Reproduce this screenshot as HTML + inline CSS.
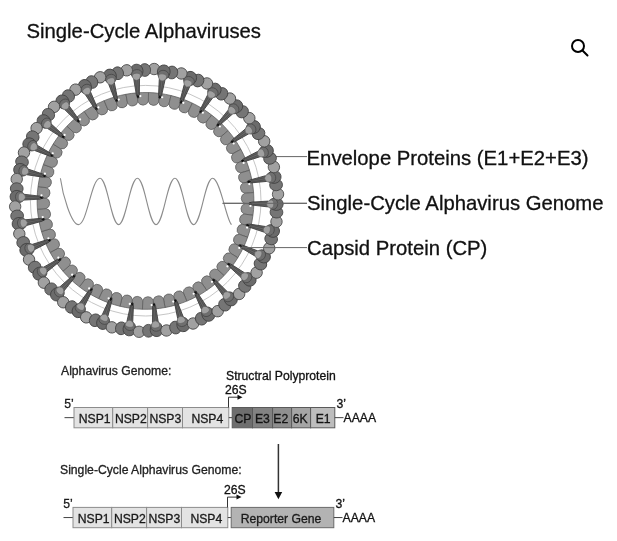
<!DOCTYPE html>
<html><head><meta charset="utf-8"><style>
html,body{margin:0;padding:0;background:#fff;width:617px;height:541px;overflow:hidden;}
svg{display:block;filter:grayscale(1);}
text{font-family:"Liberation Sans",sans-serif;}
</style></head><body>
<svg width="617" height="541" viewBox="0 0 617 541" font-family="Liberation Sans, sans-serif">
<defs>
<g id="stm"><path d="M -0.3,-102.8 L -1.5,-106.0 L -2.9,-122 L 2.9,-122 L 1.5,-106.0 L 0.3,-102.8 Z" fill="#666" stroke="#383838" stroke-width="0.8"/><path d="M -0.7,-107 L -1.1,-121 M 0.7,-107 L 1.1,-121" stroke="#404040" stroke-width="0.55"/><path d="M -1.3,-103.6 L 1.3,-103.6 L 0,-107.0 Z" fill="#111"/></g><g id="lgt"><ellipse cx="0" cy="-131.6" rx="5.8" ry="5.7" fill="#a1a1a1" stroke="#4a4a4a" stroke-width="0.85" transform="rotate(7.7)"/></g><g id="drk"><ellipse cx="0" cy="-129.8" rx="6.4" ry="6.8" fill="#6b6b6b" stroke="#424242" stroke-width="0.85"/><ellipse cx="0" cy="-126.6" rx="5.4" ry="4.6" fill="#6f6f6f" stroke="#444" stroke-width="0.7"/></g><g id="drb"><ellipse cx="0" cy="-130.4" rx="5.8" ry="6.4" fill="#757575" stroke="#454545" stroke-width="0.85" transform="rotate(3.6)"/></g><g id="hed"><path d="M -4.1,-125.4 C -4.1,-128.6 4.1,-128.6 4.1,-125.4 C 4.1,-122.8 2.3,-121 0,-120.6 C -2.3,-121 -4.1,-122.8 -4.1,-125.4 Z" fill="#a0a0a0" stroke="#5e5e5e" stroke-width="0.6"/></g>
<g id="cap"><path d="M -5.67,-108.25 A 108.4 108.4 0 0 1 5.67,-108.25 L 5.22,-99.56 A 5.5 5.5 0 0 1 -5.22,-99.56 Z" fill="#8f8f8f" stroke="#5a5a5a" stroke-width="0.7"/></g>
</defs>
<rect width="617" height="541" fill="#fff"/>
<text x="26.5" y="37.7" font-size="20.3" fill="#111" stroke="#111" stroke-width="0.3">Single-Cycle Alphaviruses</text>
<circle cx="578" cy="46" r="6" fill="none" stroke="#000" stroke-width="2"/>
<line x1="582.5" y1="50.5" x2="587.5" y2="55.5" stroke="#000" stroke-width="2" stroke-linecap="round"/>
<g stroke="#666" stroke-width="1">
<line x1="265" y1="156.6" x2="307" y2="156.6"/>
<line x1="222.6" y1="203.3" x2="307" y2="203.3"/>
</g>
<path d="M 60.4,178.2 C 62.57,194.44 71.26,224.60 78.5,224.6 C 87.10,224.60 91.40,178.30 100.0,178.3 C 107.44,178.30 111.16,224.60 118.6,224.6 C 126.12,224.60 129.88,178.30 137.4,178.3 C 144.84,178.30 148.56,224.60 156.0,224.6 C 163.56,224.60 167.34,178.30 174.9,178.3 C 182.38,178.30 186.12,224.60 193.6,224.6 C 201.20,224.60 205.00,178.30 212.6,178.3 C 220.20,178.30 226.85,222.28 231.6,224.6 " fill="none" stroke="#8c8c8c" stroke-width="1.1"/>
<circle cx="145.7" cy="200.7" r="115.3" fill="none" stroke="#c6c6c6" stroke-width="1"/>
<g transform="translate(145.5,200.9)"><use href="#cap" transform="rotate(4.60)"/><use href="#cap" transform="rotate(10.60)"/><use href="#cap" transform="rotate(16.60)"/><use href="#cap" transform="rotate(22.60)"/><use href="#cap" transform="rotate(28.60)"/><use href="#cap" transform="rotate(34.60)"/><use href="#cap" transform="rotate(40.60)"/><use href="#cap" transform="rotate(46.60)"/><use href="#cap" transform="rotate(52.60)"/><use href="#cap" transform="rotate(58.60)"/><use href="#cap" transform="rotate(64.60)"/><use href="#cap" transform="rotate(70.60)"/><use href="#cap" transform="rotate(76.60)"/><use href="#cap" transform="rotate(82.60)"/><use href="#cap" transform="rotate(88.60)"/><use href="#cap" transform="rotate(94.60)"/><use href="#cap" transform="rotate(100.60)"/><use href="#cap" transform="rotate(106.60)"/><use href="#cap" transform="rotate(112.60)"/><use href="#cap" transform="rotate(118.60)"/><use href="#cap" transform="rotate(124.60)"/><use href="#cap" transform="rotate(130.60)"/><use href="#cap" transform="rotate(136.60)"/><use href="#cap" transform="rotate(142.60)"/><use href="#cap" transform="rotate(148.60)"/><use href="#cap" transform="rotate(154.60)"/><use href="#cap" transform="rotate(160.60)"/><use href="#cap" transform="rotate(166.60)"/><use href="#cap" transform="rotate(172.60)"/><use href="#cap" transform="rotate(178.60)"/><use href="#cap" transform="rotate(184.60)"/><use href="#cap" transform="rotate(190.60)"/><use href="#cap" transform="rotate(196.60)"/><use href="#cap" transform="rotate(202.60)"/><use href="#cap" transform="rotate(208.60)"/><use href="#cap" transform="rotate(214.60)"/><use href="#cap" transform="rotate(220.60)"/><use href="#cap" transform="rotate(226.60)"/><use href="#cap" transform="rotate(232.60)"/><use href="#cap" transform="rotate(238.60)"/><use href="#cap" transform="rotate(244.60)"/><use href="#cap" transform="rotate(250.60)"/><use href="#cap" transform="rotate(256.60)"/><use href="#cap" transform="rotate(262.60)"/><use href="#cap" transform="rotate(268.60)"/><use href="#cap" transform="rotate(274.60)"/><use href="#cap" transform="rotate(280.60)"/><use href="#cap" transform="rotate(286.60)"/><use href="#cap" transform="rotate(292.60)"/><use href="#cap" transform="rotate(298.60)"/><use href="#cap" transform="rotate(304.60)"/><use href="#cap" transform="rotate(310.60)"/><use href="#cap" transform="rotate(316.60)"/><use href="#cap" transform="rotate(322.60)"/><use href="#cap" transform="rotate(328.60)"/><use href="#cap" transform="rotate(334.60)"/><use href="#cap" transform="rotate(340.60)"/><use href="#cap" transform="rotate(346.60)"/><use href="#cap" transform="rotate(352.60)"/><use href="#cap" transform="rotate(358.60)"/></g>
<g transform="translate(146.0,200.6)"><use href="#stm" transform="rotate(7.60)"/><use href="#stm" transform="rotate(19.60)"/><use href="#stm" transform="rotate(31.60)"/><use href="#stm" transform="rotate(43.60)"/><use href="#stm" transform="rotate(55.60)"/><use href="#stm" transform="rotate(67.60)"/><use href="#stm" transform="rotate(79.60)"/><use href="#stm" transform="rotate(91.60)"/><use href="#stm" transform="rotate(103.60)"/><use href="#stm" transform="rotate(115.60)"/><use href="#stm" transform="rotate(127.60)"/><use href="#stm" transform="rotate(139.60)"/><use href="#stm" transform="rotate(151.60)"/><use href="#stm" transform="rotate(163.60)"/><use href="#stm" transform="rotate(175.60)"/><use href="#stm" transform="rotate(187.60)"/><use href="#stm" transform="rotate(199.60)"/><use href="#stm" transform="rotate(211.60)"/><use href="#stm" transform="rotate(223.60)"/><use href="#stm" transform="rotate(235.60)"/><use href="#stm" transform="rotate(247.60)"/><use href="#stm" transform="rotate(259.60)"/><use href="#stm" transform="rotate(271.60)"/><use href="#stm" transform="rotate(283.60)"/><use href="#stm" transform="rotate(295.60)"/><use href="#stm" transform="rotate(307.60)"/><use href="#stm" transform="rotate(319.60)"/><use href="#stm" transform="rotate(331.60)"/><use href="#stm" transform="rotate(343.60)"/><use href="#stm" transform="rotate(355.60)"/></g><circle cx="162.21" cy="97.24" r="1.1" fill="#fff"/><circle cx="183.35" cy="102.87" r="1.1" fill="#fff"/><circle cx="202.85" cy="112.77" r="1.1" fill="#fff"/><circle cx="219.87" cy="126.51" r="1.1" fill="#fff"/><circle cx="233.66" cy="143.48" r="1.1" fill="#fff"/><circle cx="243.62" cy="162.96" r="1.1" fill="#fff"/><circle cx="249.31" cy="184.08" r="1.1" fill="#fff"/><circle cx="250.49" cy="205.92" r="1.1" fill="#fff"/><circle cx="247.10" cy="227.53" r="1.1" fill="#fff"/><circle cx="239.29" cy="247.96" r="1.1" fill="#fff"/><circle cx="227.41" cy="266.32" r="1.1" fill="#fff"/><circle cx="211.97" cy="281.81" r="1.1" fill="#fff"/><circle cx="193.64" cy="293.75" r="1.1" fill="#fff"/><circle cx="173.23" cy="301.62" r="1.1" fill="#fff"/><circle cx="151.63" cy="305.08" r="1.1" fill="#fff"/><circle cx="129.79" cy="303.96" r="1.1" fill="#fff"/><circle cx="108.65" cy="298.33" r="1.1" fill="#fff"/><circle cx="89.15" cy="288.43" r="1.1" fill="#fff"/><circle cx="72.13" cy="274.69" r="1.1" fill="#fff"/><circle cx="58.34" cy="257.72" r="1.1" fill="#fff"/><circle cx="48.38" cy="238.24" r="1.1" fill="#fff"/><circle cx="42.69" cy="217.12" r="1.1" fill="#fff"/><circle cx="41.51" cy="195.28" r="1.1" fill="#fff"/><circle cx="44.90" cy="173.67" r="1.1" fill="#fff"/><circle cx="52.71" cy="153.24" r="1.1" fill="#fff"/><circle cx="64.59" cy="134.88" r="1.1" fill="#fff"/><circle cx="80.03" cy="119.39" r="1.1" fill="#fff"/><circle cx="98.36" cy="107.45" r="1.1" fill="#fff"/><circle cx="118.77" cy="99.58" r="1.1" fill="#fff"/><circle cx="140.37" cy="96.12" r="1.1" fill="#fff"/>
<g transform="translate(146.6,200.4)"><use href="#lgt" transform="rotate(355.60)"/><use href="#drb" transform="rotate(355.60)"/><use href="#drk" transform="rotate(355.60)"/><use href="#lgt" transform="rotate(343.60)"/><use href="#drb" transform="rotate(343.60)"/><use href="#drk" transform="rotate(343.60)"/><use href="#lgt" transform="rotate(331.60)"/><use href="#drb" transform="rotate(331.60)"/><use href="#drk" transform="rotate(331.60)"/><use href="#lgt" transform="rotate(319.60)"/><use href="#drb" transform="rotate(319.60)"/><use href="#drk" transform="rotate(319.60)"/><use href="#lgt" transform="rotate(307.60)"/><use href="#drb" transform="rotate(307.60)"/><use href="#drk" transform="rotate(307.60)"/><use href="#lgt" transform="rotate(295.60)"/><use href="#drb" transform="rotate(295.60)"/><use href="#drk" transform="rotate(295.60)"/><use href="#lgt" transform="rotate(283.60)"/><use href="#drb" transform="rotate(283.60)"/><use href="#drk" transform="rotate(283.60)"/><use href="#lgt" transform="rotate(271.60)"/><use href="#drb" transform="rotate(271.60)"/><use href="#drk" transform="rotate(271.60)"/><use href="#lgt" transform="rotate(259.60)"/><use href="#drb" transform="rotate(259.60)"/><use href="#drk" transform="rotate(259.60)"/><use href="#lgt" transform="rotate(247.60)"/><use href="#drb" transform="rotate(247.60)"/><use href="#drk" transform="rotate(247.60)"/><use href="#lgt" transform="rotate(235.60)"/><use href="#drb" transform="rotate(235.60)"/><use href="#drk" transform="rotate(235.60)"/><use href="#lgt" transform="rotate(223.60)"/><use href="#drb" transform="rotate(223.60)"/><use href="#drk" transform="rotate(223.60)"/><use href="#lgt" transform="rotate(211.60)"/><use href="#drb" transform="rotate(211.60)"/><use href="#drk" transform="rotate(211.60)"/><use href="#lgt" transform="rotate(199.60)"/><use href="#drb" transform="rotate(199.60)"/><use href="#drk" transform="rotate(199.60)"/><use href="#lgt" transform="rotate(187.60)"/><use href="#drb" transform="rotate(187.60)"/><use href="#drk" transform="rotate(187.60)"/><use href="#lgt" transform="rotate(175.60)"/><use href="#drb" transform="rotate(175.60)"/><use href="#drk" transform="rotate(175.60)"/><use href="#lgt" transform="rotate(163.60)"/><use href="#drb" transform="rotate(163.60)"/><use href="#drk" transform="rotate(163.60)"/><use href="#lgt" transform="rotate(151.60)"/><use href="#drb" transform="rotate(151.60)"/><use href="#drk" transform="rotate(151.60)"/><use href="#lgt" transform="rotate(139.60)"/><use href="#drb" transform="rotate(139.60)"/><use href="#drk" transform="rotate(139.60)"/><use href="#lgt" transform="rotate(127.60)"/><use href="#drb" transform="rotate(127.60)"/><use href="#drk" transform="rotate(127.60)"/><use href="#lgt" transform="rotate(115.60)"/><use href="#drb" transform="rotate(115.60)"/><use href="#drk" transform="rotate(115.60)"/><use href="#lgt" transform="rotate(103.60)"/><use href="#drb" transform="rotate(103.60)"/><use href="#drk" transform="rotate(103.60)"/><use href="#lgt" transform="rotate(91.60)"/><use href="#drb" transform="rotate(91.60)"/><use href="#drk" transform="rotate(91.60)"/><use href="#lgt" transform="rotate(79.60)"/><use href="#drb" transform="rotate(79.60)"/><use href="#drk" transform="rotate(79.60)"/><use href="#lgt" transform="rotate(67.60)"/><use href="#drb" transform="rotate(67.60)"/><use href="#drk" transform="rotate(67.60)"/><use href="#lgt" transform="rotate(55.60)"/><use href="#drb" transform="rotate(55.60)"/><use href="#drk" transform="rotate(55.60)"/><use href="#lgt" transform="rotate(43.60)"/><use href="#drb" transform="rotate(43.60)"/><use href="#drk" transform="rotate(43.60)"/><use href="#lgt" transform="rotate(31.60)"/><use href="#drb" transform="rotate(31.60)"/><use href="#drk" transform="rotate(31.60)"/><use href="#lgt" transform="rotate(19.60)"/><use href="#drb" transform="rotate(19.60)"/><use href="#drk" transform="rotate(19.60)"/><use href="#lgt" transform="rotate(7.60)"/><use href="#drb" transform="rotate(7.60)"/><use href="#drk" transform="rotate(7.60)"/></g>
<g transform="translate(146.0,200.6)"><use href="#hed" transform="rotate(7.60)"/><use href="#hed" transform="rotate(19.60)"/><use href="#hed" transform="rotate(31.60)"/><use href="#hed" transform="rotate(43.60)"/><use href="#hed" transform="rotate(55.60)"/><use href="#hed" transform="rotate(67.60)"/><use href="#hed" transform="rotate(79.60)"/><use href="#hed" transform="rotate(91.60)"/><use href="#hed" transform="rotate(103.60)"/><use href="#hed" transform="rotate(115.60)"/><use href="#hed" transform="rotate(127.60)"/><use href="#hed" transform="rotate(139.60)"/><use href="#hed" transform="rotate(151.60)"/><use href="#hed" transform="rotate(163.60)"/><use href="#hed" transform="rotate(175.60)"/><use href="#hed" transform="rotate(187.60)"/><use href="#hed" transform="rotate(199.60)"/><use href="#hed" transform="rotate(211.60)"/><use href="#hed" transform="rotate(223.60)"/><use href="#hed" transform="rotate(235.60)"/><use href="#hed" transform="rotate(247.60)"/><use href="#hed" transform="rotate(259.60)"/><use href="#hed" transform="rotate(271.60)"/><use href="#hed" transform="rotate(283.60)"/><use href="#hed" transform="rotate(295.60)"/><use href="#hed" transform="rotate(307.60)"/><use href="#hed" transform="rotate(319.60)"/><use href="#hed" transform="rotate(331.60)"/><use href="#hed" transform="rotate(343.60)"/><use href="#hed" transform="rotate(355.60)"/></g>
<line x1="222.6" y1="203.3" x2="307" y2="203.3" stroke="#666" stroke-width="1"/>
<line x1="240" y1="247.6" x2="307" y2="247.6" stroke="#666" stroke-width="1"/>
<g font-size="20.3" fill="#111" stroke="#111" stroke-width="0.3">
<text x="306.6" y="164.8">Envelope Proteins (E1+E2+E3)</text>
<text x="307" y="210.1">Single-Cycle Alphavirus Genome</text>
<text x="307" y="254.5">Capsid Protein (CP)</text>
</g>
<text x="61" y="374.8" font-size="12.2" fill="#222" stroke="#222" stroke-width="0.3">Alphavirus Genome:</text>
<text x="226" y="379.5" font-size="12.2" fill="#111" stroke="#111" stroke-width="0.3">Structral Polyprotein</text>
<g transform="translate(0.0,0)">
<line x1="64.5" y1="417.65" x2="74" y2="417.65" stroke="#444" stroke-width="1"/>
<text x="64.2" y="407.6" font-size="12.2" fill="#1a1a1a" stroke="#1a1a1a" stroke-width="0.3">5’</text>
<rect x="74" y="407.5" width="38.7" height="20.3" fill="#e3e3e3" stroke="#8c8c8c" stroke-width="1"/>
<rect x="112.7" y="407.5" width="34.9" height="20.3" fill="#e3e3e3" stroke="#8c8c8c" stroke-width="1"/>
<rect x="147.6" y="407.5" width="34.9" height="20.3" fill="#e3e3e3" stroke="#8c8c8c" stroke-width="1"/>
<rect x="182.5" y="407.5" width="46.3" height="20.3" fill="#e3e3e3" stroke="#8c8c8c" stroke-width="1"/>
<text x="94.7" y="422.8" font-size="12.2" fill="#1a1a1a" stroke="#1a1a1a" stroke-width="0.3" text-anchor="middle">NSP1</text>
<text x="130.8" y="422.8" font-size="12.2" fill="#1a1a1a" stroke="#1a1a1a" stroke-width="0.3" text-anchor="middle">NSP2</text>
<text x="165.3" y="422.8" font-size="12.2" fill="#1a1a1a" stroke="#1a1a1a" stroke-width="0.3" text-anchor="middle">NSP3</text>
<text x="207.3" y="422.8" font-size="12.2" fill="#1a1a1a" stroke="#1a1a1a" stroke-width="0.3" text-anchor="middle">NSP4</text>
<line x1="228.8" y1="417.65" x2="232.2" y2="417.65" stroke="#444" stroke-width="1"/>
<rect x="232.2" y="407.5" width="20.3" height="20.3" fill="#6e6e6e" stroke="#5a5a5a" stroke-width="1"/>
<rect x="252.5" y="407.5" width="20.1" height="20.3" fill="#828282" stroke="#5a5a5a" stroke-width="1"/>
<rect x="272.6" y="407.5" width="19.0" height="20.3" fill="#8f8f8f" stroke="#5a5a5a" stroke-width="1"/>
<rect x="291.6" y="407.5" width="19.0" height="20.3" fill="#a5a5a5" stroke="#5a5a5a" stroke-width="1"/>
<rect x="310.6" y="407.5" width="24.2" height="20.3" fill="#bdbdbd" stroke="#5a5a5a" stroke-width="1"/>
<text x="242.9" y="422.8" font-size="12.2" fill="#141414" stroke="#141414" stroke-width="0.3" text-anchor="middle">CP</text>
<text x="262.4" y="422.8" font-size="12.2" fill="#141414" stroke="#141414" stroke-width="0.3" text-anchor="middle">E3</text>
<text x="280.8" y="422.8" font-size="12.2" fill="#141414" stroke="#141414" stroke-width="0.3" text-anchor="middle">E2</text>
<text x="300.1" y="422.8" font-size="12.2" fill="#141414" stroke="#141414" stroke-width="0.3" text-anchor="middle">6K</text>
<text x="323.2" y="422.8" font-size="12.2" fill="#141414" stroke="#141414" stroke-width="0.3" text-anchor="middle">E1</text>
<line x1="334.8" y1="417.65" x2="343.5" y2="417.65" stroke="#444" stroke-width="1"/>
<text x="343.6" y="422.0" font-size="12.2" fill="#111" stroke="#111" stroke-width="0.3">AAAA</text>
<text x="336.6" y="407.6" font-size="12.2" fill="#111" stroke="#111" stroke-width="0.3">3’</text>
<path d="M 228.5,407.5 L 228.5,397.2 L 238,397.2" fill="none" stroke="#333" stroke-width="1"/>
<path d="M 237.5,394.7 L 242.5,397.2 L 237.5,399.7 Z" fill="#111"/>
<text x="225" y="393.8" font-size="12.2" fill="#111" stroke="#111" stroke-width="0.3">26S</text>
</g>
<text x="60" y="474.2" font-size="12.2" fill="#222" stroke="#222" stroke-width="0.3">Single-Cycle Alphavirus Genome:</text>
<g transform="translate(-1.0,0)">
<line x1="64.5" y1="517.55" x2="74" y2="517.55" stroke="#444" stroke-width="1"/>
<text x="64.2" y="507.5" font-size="12.2" fill="#1a1a1a" stroke="#1a1a1a" stroke-width="0.3">5’</text>
<rect x="74" y="507.4" width="38.7" height="20.3" fill="#e3e3e3" stroke="#8c8c8c" stroke-width="1"/>
<rect x="112.7" y="507.4" width="34.9" height="20.3" fill="#e3e3e3" stroke="#8c8c8c" stroke-width="1"/>
<rect x="147.6" y="507.4" width="34.9" height="20.3" fill="#e3e3e3" stroke="#8c8c8c" stroke-width="1"/>
<rect x="182.5" y="507.4" width="46.3" height="20.3" fill="#e3e3e3" stroke="#8c8c8c" stroke-width="1"/>
<text x="94.7" y="522.6" font-size="12.2" fill="#1a1a1a" stroke="#1a1a1a" stroke-width="0.3" text-anchor="middle">NSP1</text>
<text x="130.8" y="522.6" font-size="12.2" fill="#1a1a1a" stroke="#1a1a1a" stroke-width="0.3" text-anchor="middle">NSP2</text>
<text x="165.3" y="522.6" font-size="12.2" fill="#1a1a1a" stroke="#1a1a1a" stroke-width="0.3" text-anchor="middle">NSP3</text>
<text x="207.3" y="522.6" font-size="12.2" fill="#1a1a1a" stroke="#1a1a1a" stroke-width="0.3" text-anchor="middle">NSP4</text>
<line x1="228.8" y1="517.55" x2="232.2" y2="517.55" stroke="#444" stroke-width="1"/>
<rect x="232.2" y="507.4" width="102.6" height="20.3" fill="#b3b3b3" stroke="#6a6a6a" stroke-width="1"/>
<text x="282.0" y="522.6" font-size="12.2" fill="#1a1a1a" stroke="#1a1a1a" stroke-width="0.3" text-anchor="middle">Reporter Gene</text>
<line x1="334.8" y1="517.55" x2="343.5" y2="517.55" stroke="#444" stroke-width="1"/>
<text x="343.6" y="521.9" font-size="12.2" fill="#111" stroke="#111" stroke-width="0.3">AAAA</text>
<text x="336.6" y="507.5" font-size="12.2" fill="#111" stroke="#111" stroke-width="0.3">3’</text>
<path d="M 228.5,507.4 L 228.5,497.09999999999997 L 238,497.09999999999997" fill="none" stroke="#333" stroke-width="1"/>
<path d="M 237.5,494.59999999999997 L 242.5,497.09999999999997 L 237.5,499.59999999999997 Z" fill="#111"/>
<text x="225" y="493.7" font-size="12.2" fill="#111" stroke="#111" stroke-width="0.3">26S</text>
</g>
<line x1="278.4" y1="444" x2="278.4" y2="493" stroke="#333" stroke-width="1.5"/>
<path d="M 274.6,492 L 282.2,492 L 278.4,499.2 Z" fill="#111"/>
</svg>
</body></html>
